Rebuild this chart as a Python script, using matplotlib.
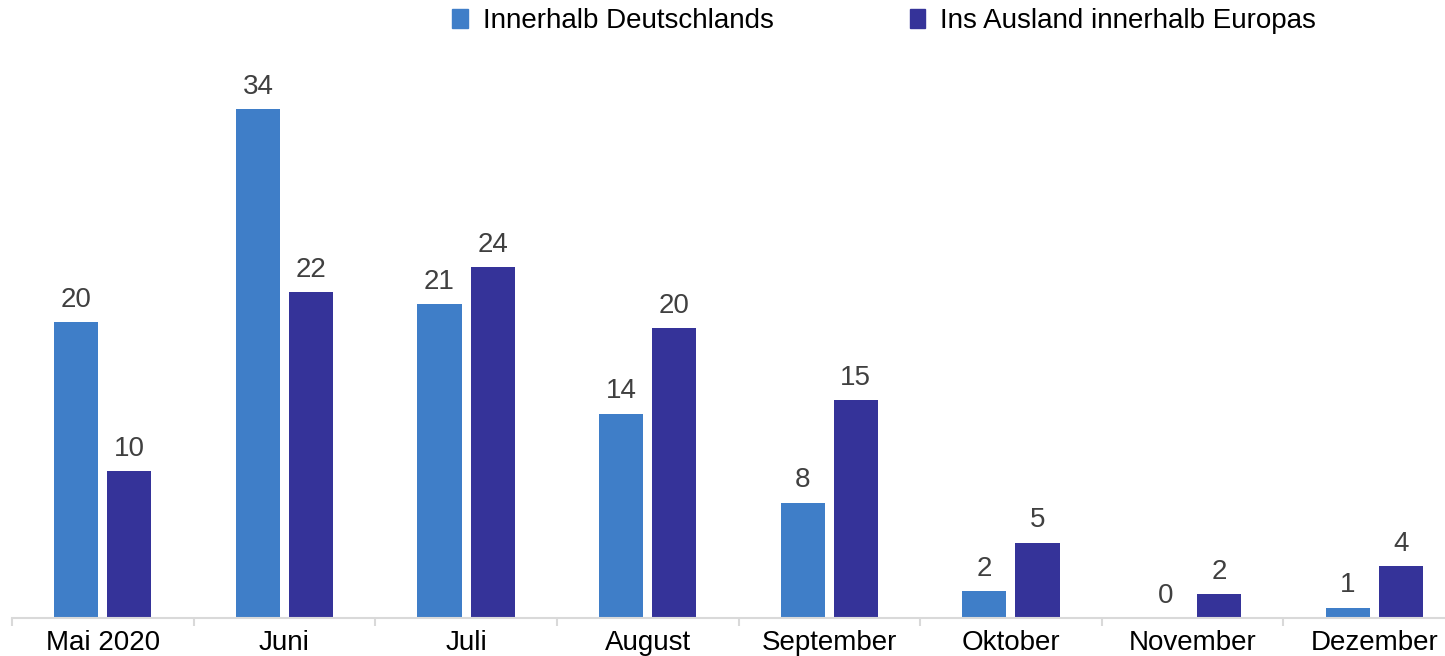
import numpy as np
import matplotlib.pyplot as plt
from matplotlib.patches import Patch

# Data
months = ["Mai 2020", "Juni", "Juli", "August", "September", "Oktober", "November", "Dezember"]
inland = [20.0, 34.4, 21.2, 13.8, 7.8, 1.8, 0.0, 0.7]
ausland = [9.9, 22.0, 23.7, 19.6, 14.7, 5.1, 1.6, 3.5]
inland_labels = [20, 34, 21, 14, 8, 2, 0, 1]
ausland_labels = [10, 22, 24, 20, 15, 5, 2, 4]

light = "#3F7EC8"
dark = "#353399"

plt.rcParams['font.family'] = ['Liberation Sans', 'DejaVu Sans']

fig = plt.figure(figsize=(14.45, 6.56), dpi=100)
# the category axis runs a little past the right edge of the picture
ax = fig.add_axes([12 / 1445, 1 - 618 / 656, 1453 / 1445, 592 / 656])

x = np.arange(len(months))
w = 0.243
off = 0.146
b1 = ax.bar(x - off, inland, w, color=light)
b2 = ax.bar(x + off, ausland, w, color=dark)

# value labels
for bars, labels in [(b1, inland_labels), (b2, ausland_labels)]:
    for bar, lab in zip(bars, labels):
        ax.annotate(str(lab), (bar.get_x() + bar.get_width() / 2, bar.get_height()),
                    xytext=(0, 11), textcoords="offset points",
                    ha="center", va="baseline", fontsize=20, color="#404040")

ax.set_xlim(-0.5, len(months) - 0.5)
ax.set_ylim(0, 40)

# axes styling
for s in ["top", "right", "left"]:
    ax.spines[s].set_visible(False)
ax.spines["bottom"].set_color("#D9D9D9")
ax.spines["bottom"].set_linewidth(1.5)
ax.set_yticks([])

ax.set_xticks(x)
ax.set_xticklabels(months, fontsize=20)
ax.tick_params(axis="x", which="major", length=0, pad=9)
ax.set_xticks(np.arange(-0.5, len(months)), minor=True)
ax.tick_params(axis="x", which="minor", length=6, width=1.5, color="#D9D9D9")

handles = [Patch(color=light), Patch(color=dark)]
fig.legend(handles, ["Innerhalb Deutschlands", "Ins Ausland innerhalb Europas"],
           loc="center", bbox_to_anchor=(0.612, 0.968), ncol=2, frameon=False,
           fontsize=20, handlelength=0.55, handleheight=0.65, handletextpad=0.55,
           columnspacing=4.9, borderpad=0)

fig.savefig("out.png", dpi=100)
